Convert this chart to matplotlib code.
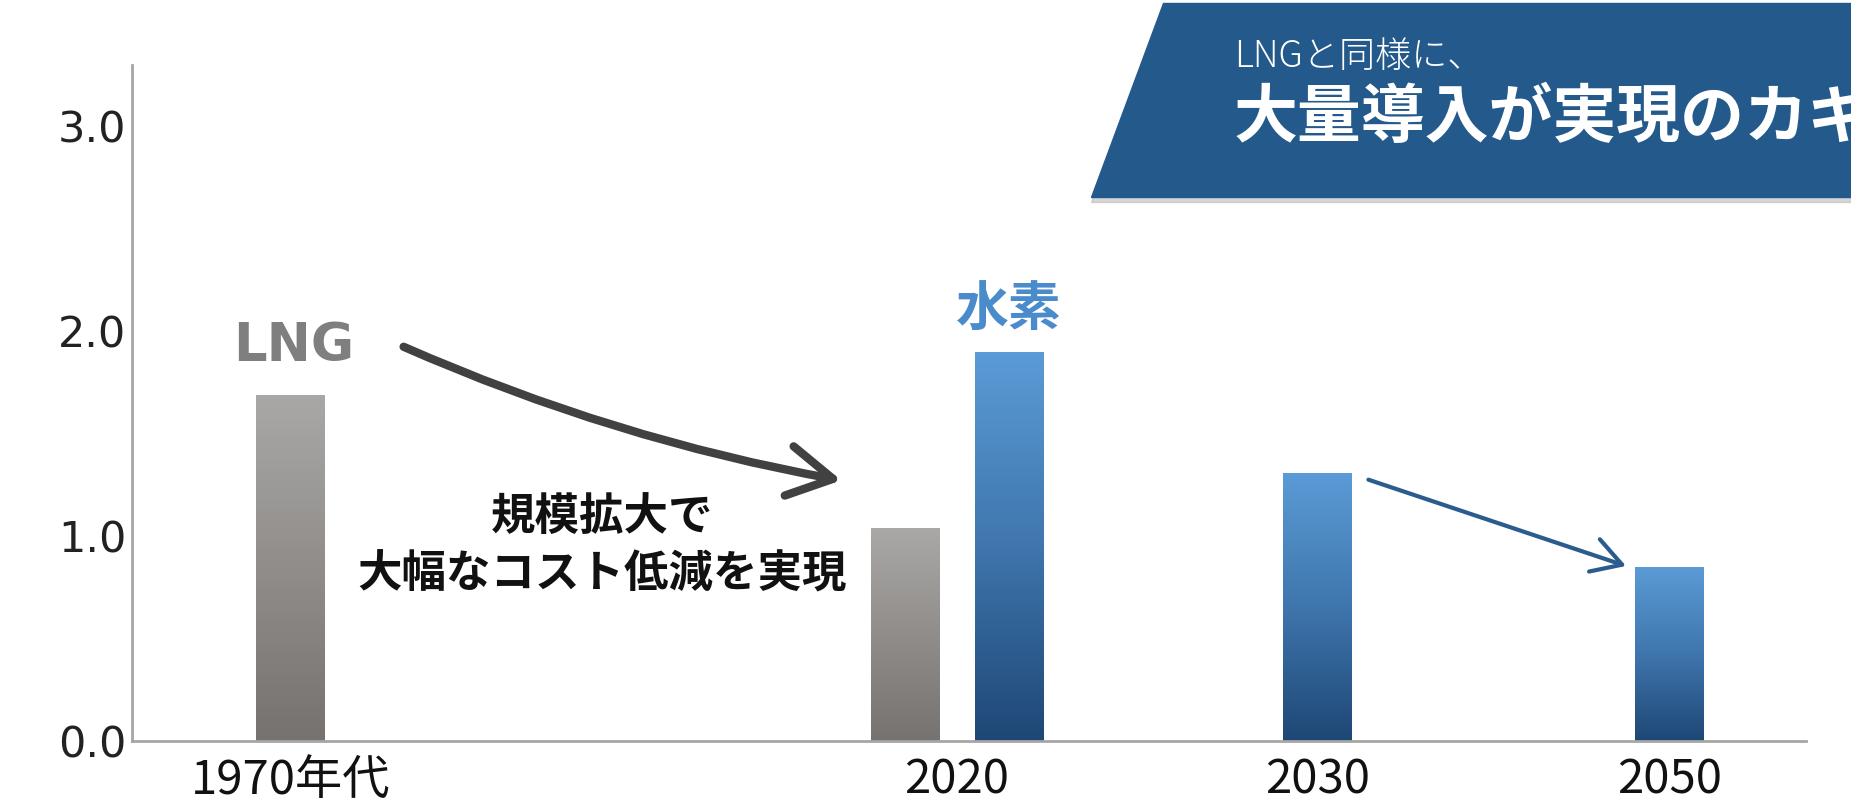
import numpy as np
import matplotlib.pyplot as plt
from matplotlib.patches import Polygon, FancyArrowPatch
from matplotlib.colors import LinearSegmentedColormap

plt.rcParams['font.family'] = ['DejaVu Sans', 'Noto Sans CJK JP']

# chart data
categories = ['1970年代', '2020', '2030', '2050']
lng_values = [1.69, 1.04, None, None]
h2_values = [None, 1.90, 1.31, 0.85]
yticks = [0.0, 1.0, 2.0, 3.0]

group_x = [2.31, 12.05, 17.31, 22.45]
bar_w = 1.0
pair_off = 0.76

gray_cmap = LinearSegmentedColormap.from_list('g', ['#767270', '#aaa8a6'])
blue_cmap = LinearSegmentedColormap.from_list('b', ['#1e4775', '#3f76ad', '#5b9bd6'])

fig = plt.figure(figsize=(18.51, 8.09), dpi=100)
ax = fig.add_axes([132 / 1851, 68 / 809, 1674 / 1851, 676 / 809])


def grad_bar(x, h, cmap):
    b = ax.bar(x, h, width=bar_w, color='none', edgecolor='none')[0]
    grad = np.linspace(0, 1, 256).reshape(-1, 1)
    im = ax.imshow(grad, cmap=cmap, origin='lower', aspect='auto',
                   extent=[x - bar_w / 2, x + bar_w / 2, 0, h], zorder=2)
    im.set_clip_path(b)


for i, (lv, hv) in enumerate(zip(lng_values, h2_values)):
    cx = group_x[i]
    if lv is not None and hv is not None:
        grad_bar(cx - pair_off, lv, gray_cmap)
        grad_bar(cx + pair_off, hv, blue_cmap)
    elif lv is not None:
        grad_bar(cx, lv, gray_cmap)
    else:
        grad_bar(cx, hv, blue_cmap)

ax.set_xlim(0, 24.45)
ax.set_ylim(0, 3.3)
ax.set_yticks(yticks)
ax.set_yticklabels([f'{v:.1f}' for v in yticks], fontsize=31, color='#222222',
                   family='DejaVu Sans')
ax.set_xticks(group_x)
ax.set_xticklabels(categories, fontsize=34, color='#111111',
                   family=['Noto Sans CJK JP', 'DejaVu Sans'])
ax.tick_params(axis='y', length=0, pad=4)
ax.tick_params(axis='x', length=0, pad=11)
for s in ['top', 'right']:
    ax.spines[s].set_visible(False)
for s in ['left', 'bottom']:
    ax.spines[s].set_color('#a6a6a6')
    ax.spines[s].set_linewidth(2)

# labels on the bars
ax.text(2.36, 1.93, 'LNG', fontsize=38, fontweight='bold', color='#7f7f7f',
        ha='center', va='center', family='DejaVu Sans')
ax.text(12.81, 2.10, '水素', fontsize=38, fontweight='bold', color='#4a8bcb',
        ha='center', va='center', family=['Noto Sans CJK JP'])
ax.text(6.87, 0.95, '規模拡大で\n大幅なコスト低減を実現', fontsize=32,
        fontweight='bold', color='#111111', ha='center', va='center',
        linespacing=1.3, family=['Noto Sans CJK JP'])

# arrows
a1 = FancyArrowPatch((3.93, 1.93), (10.40, 1.27),
                     connectionstyle='arc3,rad=0.06',
                     arrowstyle='->,head_length=0.8,head_width=0.45',
                     mutation_scale=40, lw=6, color='#414141',
                     capstyle='round', joinstyle='round', zorder=4)
ax.add_patch(a1)
a2 = FancyArrowPatch((18.02, 1.28), (21.86, 0.85),
                     arrowstyle='->,head_length=0.6,head_width=0.35',
                     mutation_scale=35, lw=3, color='#2a5c8d', zorder=4)
ax.add_patch(a2)

# banner in top right (title runs off the right edge, as in the source)
W, H = 1851, 809
pts = [(1163, 3), (W, 3), (W, 197), (1091, 197)]
shadow = Polygon([(x / W, 1 - (y + 5) / H) for x, y in pts],
                 closed=True, transform=fig.transFigure, color='#bbbbbb',
                 alpha=0.6, zorder=1)
fig.patches.append(shadow)
banner = Polygon([(x / W, 1 - y / H) for x, y in pts], closed=True,
                 transform=fig.transFigure, color='#245a8b', zorder=2)
fig.patches.append(banner)
fig.text(1234 / W, 1 - 57 / H, 'LNGと同様に、', fontsize=26, color='white',
         ha='left', va='center', fontweight='light',
         family=['Noto Sans CJK JP'])
fig.text(1234 / W, 1 - 118 / H, '大量導入が実現のカギ', fontsize=46,
         fontweight='bold', color='white', ha='left', va='center',
         family=['Noto Sans CJK JP'])

fig.savefig('out.png', dpi=100)
